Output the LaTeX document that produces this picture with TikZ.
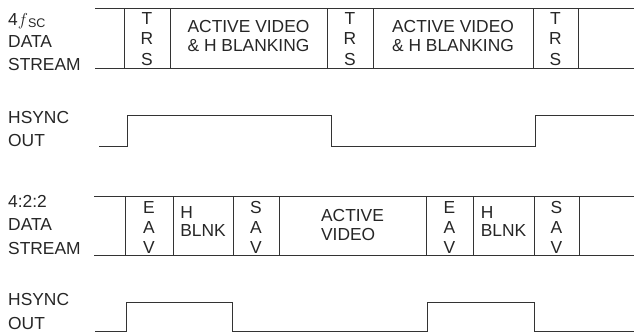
\documentclass[tikz,border=0pt]{standalone}
\usepackage{fontspec}
\setmainfont{Liberation Sans}
\usetikzlibrary{calc}
\def\sub#1{\raisebox{-2.5pt}{\fontsize{12.5}{12.5}\selectfont #1}}
\tikzset{
	wire/.style={line width=0.9pt, draw=black!80},
	lbl/.style={anchor=base west, inner sep=0pt, text=black!85},
	cell/.style={align=center, inner sep=0pt, text=black!85, font=\fontsize{17.4}{20.3}\selectfont},
}

\begin{document}
\begin{tikzpicture}[x=1pt, y=-1pt, font=\fontsize{17.4}{20.3}\selectfont]
		\useasboundingbox (0,0) rectangle (634,332);
		%%%%% 4fSC STREAM %%%%%
		\node[lbl] (fsc1) at (8,25) {4$f$\sub{SC}};
		\node[lbl] (fsc2) at (8,47) {DATA};
		\node[lbl] (fsc3) at (8,70) {STREAM};
		
		\draw[wire] (95,8) -- (634,8);
		\draw[wire] (95,68) -- (634,68);
		\foreach \x in {124,170,327,373,533,578}
			\draw[wire] (\x,8) -- (\x,68);
		
		\node[cell] (trs1) at (147,39) {T\\R\\S};
		\node[cell, align=left, font=\fontsize{17.4}{19}\selectfont] (act1) at (248.5,36) {ACTIVE VIDEO\\\& H BLANKING};
		\node[cell] (trs2) at (350,39) {T\\R\\S};
		\node[cell, align=left, font=\fontsize{17.4}{19}\selectfont] (act2) at (453,36) {ACTIVE VIDEO\\\& H BLANKING};
		\node[cell] (trs3) at (555.5,39) {T\\R\\S};
		
		%%%%% HSYNC 1 %%%%%
		\node[lbl] (hs1a) at (8,123) {HSYNC};
		\node[lbl] (hs1b) at (8,146) {OUT};
		\draw[wire] (99,146) -- (127.7,146) -- (127.7,115.3) -- (331,115.3) -- (331,146)
			-- (535.7,146) -- (535.7,115.3) -- (634,115.3);
		
		%%%%% 4:2:2 STREAM %%%%%
		\node[lbl] (yuv1) at (8,207) {4:2:2};
		\node[lbl] (yuv2) at (8,230) {DATA};
		\node[lbl] (yuv3) at (8,254) {STREAM};
		
		\draw[wire] (94,196) -- (634,196);
		\draw[wire] (94,255) -- (634,255);
		\foreach \x in {125,173,233,279,426,473,534,579}
			\draw[wire] (\x,196) -- (\x,255);
		
		\node[cell] (eav1) at (149,227.5) {E\\A\\V};
		\node[cell, align=left, font=\fontsize{17.4}{18}\selectfont] (blnk1) at (203,222) {H\\BLNK};
		\node[cell] (sav1) at (256,227.5) {S\\A\\V};
		\node[cell, align=left, font=\fontsize{17.4}{19.5}\selectfont] (vid) at (352.5,225) {ACTIVE\\VIDEO};
		\node[cell] (eav2) at (449.5,227.5) {E\\A\\V};
		\node[cell, align=left, font=\fontsize{17.4}{18}\selectfont] (blnk2) at (503.5,222) {H\\BLNK};
		\node[cell] (sav2) at (556.5,227.5) {S\\A\\V};
		
		%%%%% HSYNC 2 %%%%%
		\node[lbl] (hs2a) at (8,305) {HSYNC};
		\node[lbl] (hs2b) at (8,329) {OUT};
		\draw[wire] (95,331) -- (126,331) -- (126,302) -- (232.7,302) -- (232.7,331)
			-- (427.3,331) -- (427.3,302) -- (534,302) -- (534,331) -- (634,331);
		%%%%% END %%%%%
\end{tikzpicture}
\end{document}
